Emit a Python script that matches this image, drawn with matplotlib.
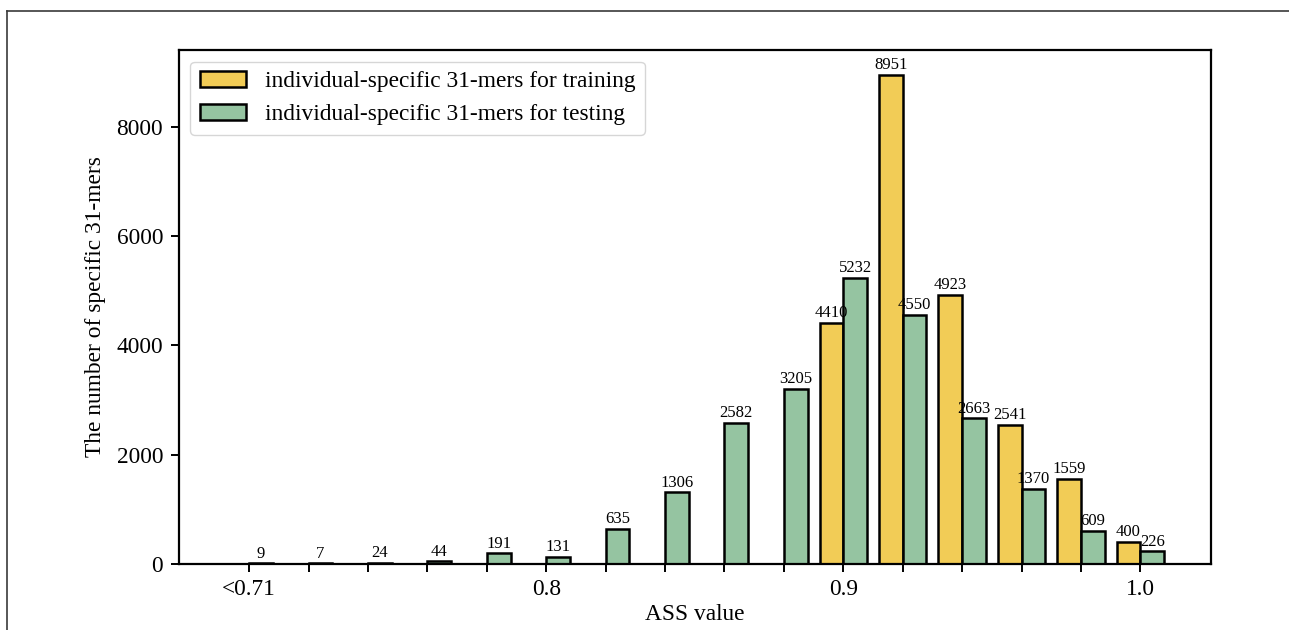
import matplotlib
matplotlib.use("Agg")
import matplotlib.pyplot as plt
from matplotlib.lines import Line2D
import numpy as np

plt.rcParams['font.family'] = ['Liberation Serif', 'DejaVu Serif']

# ASS value bins (only four are labelled on the axis)
bin_labels = ['<0.71', '', '', '', '', '0.8', '', '', '', '',
              '0.9', '', '', '', '', '1.0']
training = [0, 0, 0, 0, 0, 0, 0, 0, 0, 0,
            4410, 8951, 4923, 2541, 1559, 400]
testing = [9, 7, 24, 44, 191, 131, 635, 1306, 2582, 3205,
           5232, 4550, 2663, 1370, 609, 226]

train_color = '#F2CC56'
test_color = '#95C4A1'

fig = plt.figure(figsize=(12.89, 6.30), dpi=100)
ax = fig.add_axes([0.1385, 0.105, 0.8010, 0.8155])

x = np.arange(len(bin_labels))
w = 0.4
b1 = ax.bar(x - w / 2, training, width=w, color=train_color,
            edgecolor='black', linewidth=1.8,
            label='individual-specific 31-mers for training')
b2 = ax.bar(x + w / 2, testing, width=w, color=test_color,
            edgecolor='black', linewidth=1.8,
            label='individual-specific 31-mers for testing')

# value labels above the bars (empty training bins stay unlabelled)
for rect, v in zip(b1, training):
    if v > 0:
        ax.text(rect.get_x() + rect.get_width() / 2, v + 30, str(v),
                ha='center', va='bottom', fontsize=12)
for rect, v in zip(b2, testing):
    ax.text(rect.get_x() + rect.get_width() / 2, v + 30, str(v),
            ha='center', va='bottom', fontsize=12)

ax.set_xticks(x)
ax.set_xticklabels(bin_labels)
ax.set_yticks([0, 2000, 4000, 6000, 8000])
ax.tick_params(axis='both', labelsize=16.8, length=6, width=1.4, pad=5)
for s in ax.spines.values():
    s.set_linewidth(1.6)

ax.set_xlabel('ASS value', fontsize=16.8, labelpad=3)
ax.set_ylabel('The number of specific 31-mers', fontsize=16.8, labelpad=8)

ax.legend(loc='upper left', fontsize=16.8)

# thin outer frame around the figure
fw, fh = 1289, 630
fx, fy = 6.5 / fw, 1 - 10.5 / fh
fig.add_artist(Line2D([fx, 1.0], [fy, fy], transform=fig.transFigure,
                      color='#3a3a3a', linewidth=1.2))
fig.add_artist(Line2D([fx, fx], [0.0, fy], transform=fig.transFigure,
                      color='#3a3a3a', linewidth=1.2))

fig.savefig('out.png', dpi=100)
